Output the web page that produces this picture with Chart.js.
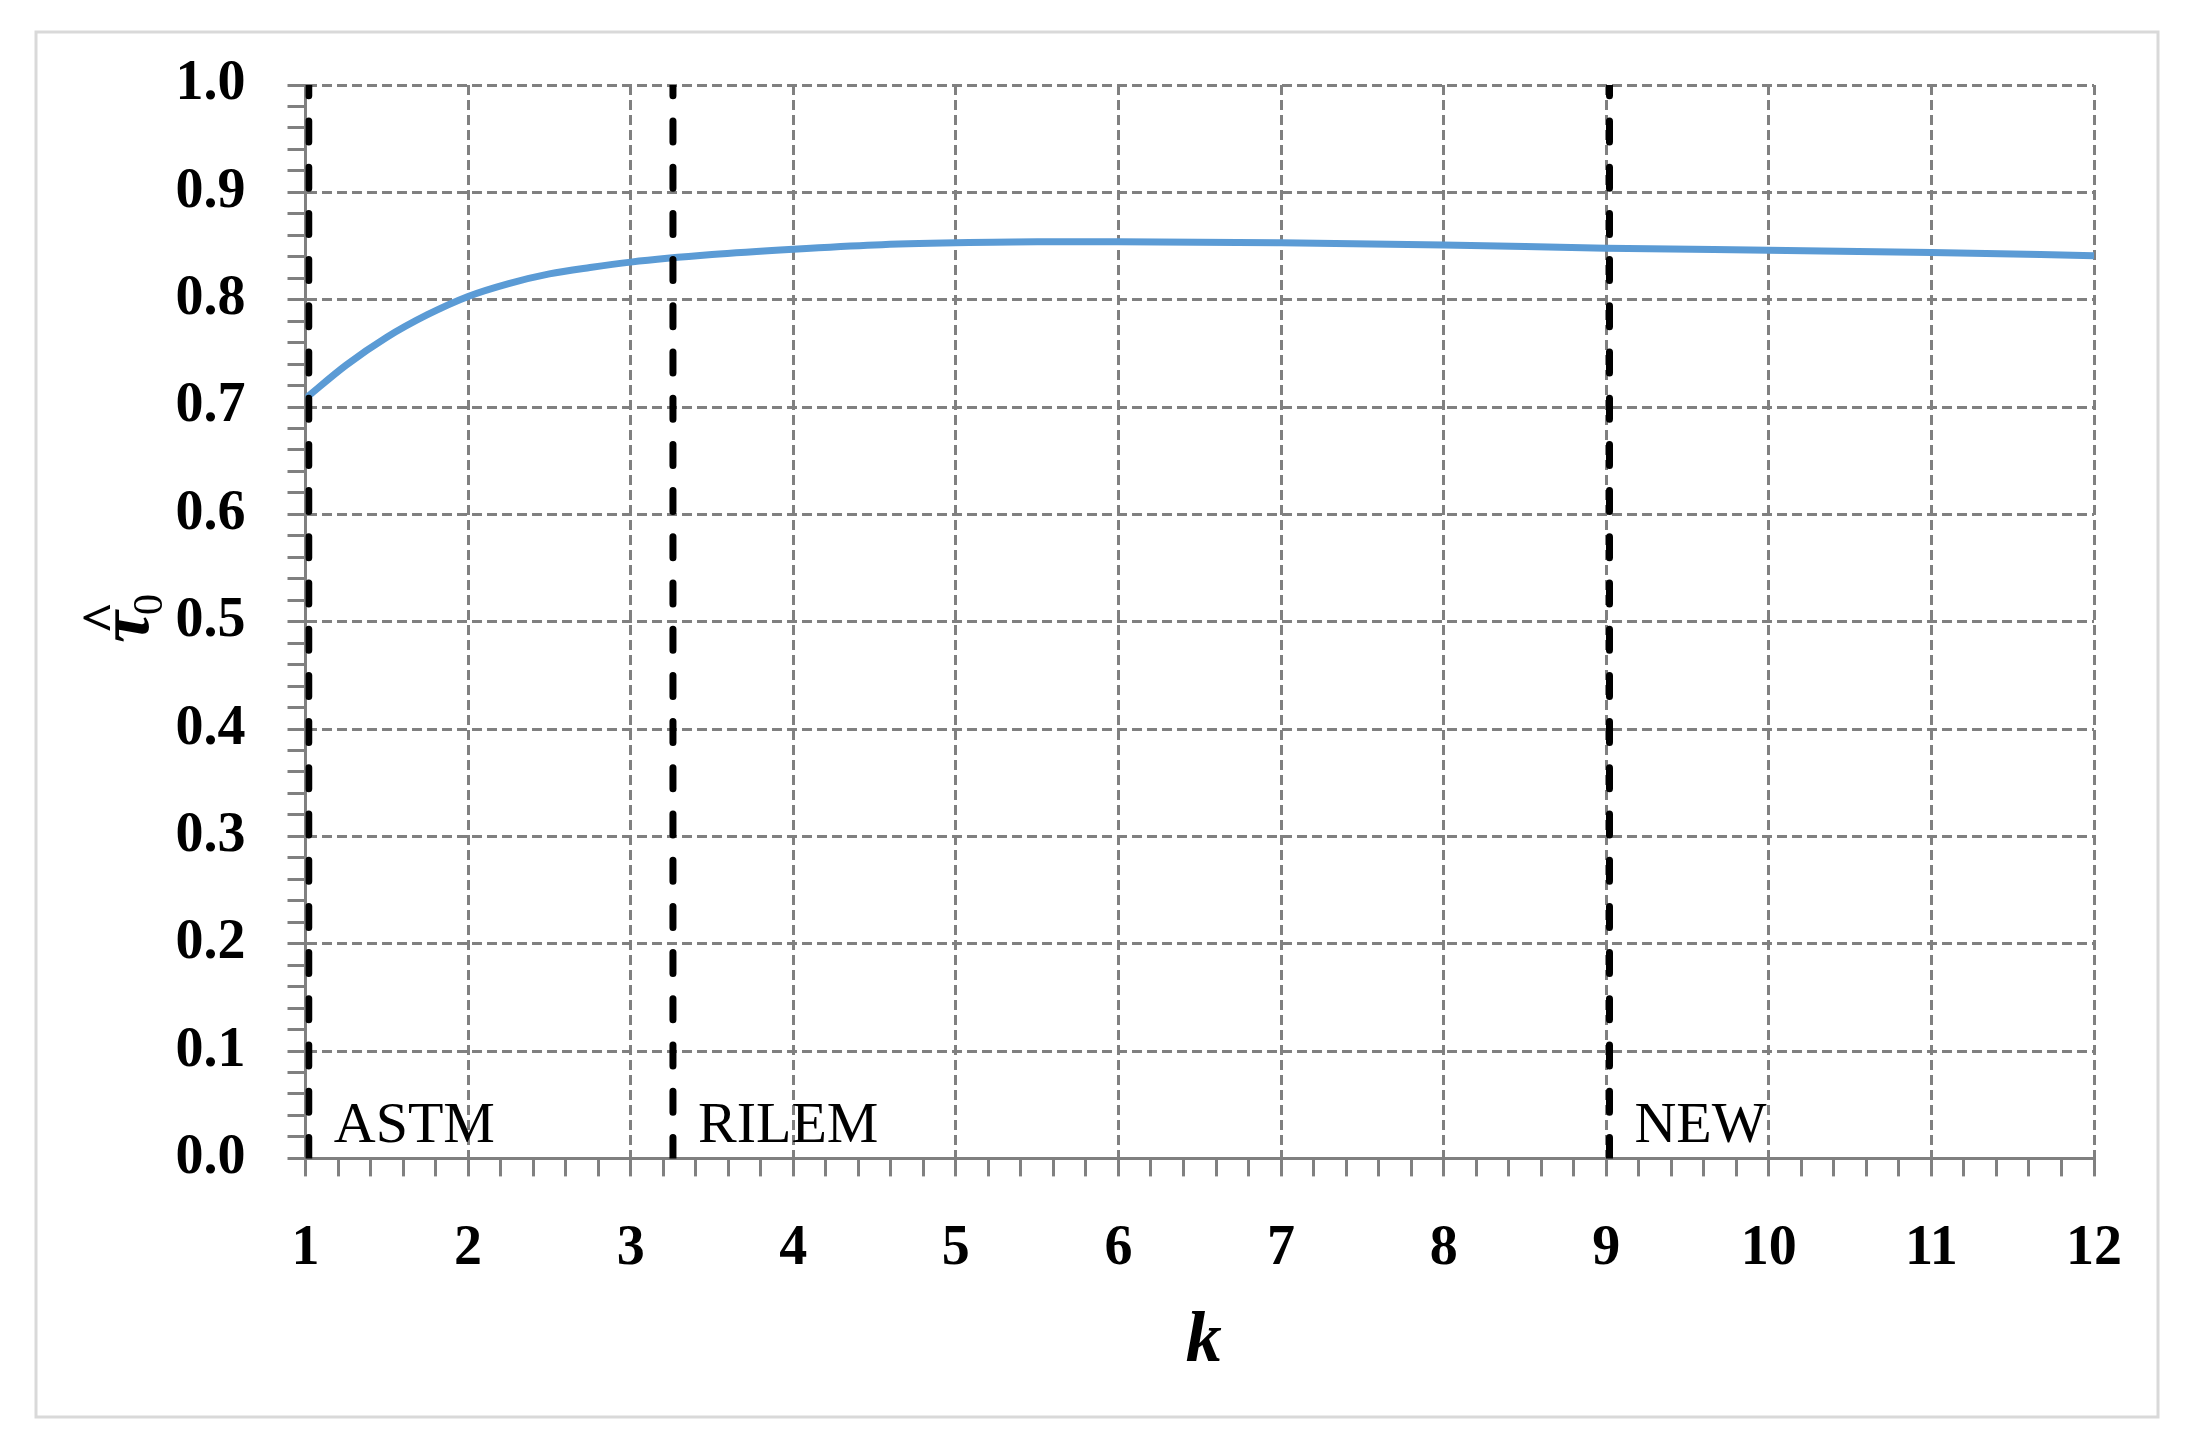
<!DOCTYPE html>
<html>
<head>
<meta charset="utf-8">
<script src="https://cdn.jsdelivr.net/npm/chart.js@4"></script>
<style>
  html, body { margin: 0; padding: 0; background: #fff; }
  #wrap { width: 2201px; height: 1456px; position: relative; }
</style>
</head>
<body>
<div id="wrap"><canvas id="tauChart"></canvas></div>
<script>
// k values and the curve
var kValues = [1, 1.25, 1.5, 1.75, 2, 2.25, 2.5, 2.75, 3, 3.5, 4, 4.5, 5, 5.5, 6, 7, 8, 9, 10, 11, 12];
var tauValues = [0.708, 0.739, 0.765, 0.786, 0.803, 0.815, 0.824, 0.830, 0.835, 0.842, 0.847, 0.851, 0.853, 0.854, 0.854, 0.853, 0.851, 0.848, 0.846, 0.844, 0.841];

// vertical method markers
var markerK = [1.02, 3.26, 9.02];
var markerNames = ["ASTM", "RILEM", "NEW"];

var xTicks = [1, 2, 3, 4, 5, 6, 7, 8, 9, 10, 11, 12];
var yTicks = [0, 0.1, 0.2, 0.3, 0.4, 0.5, 0.6, 0.7, 0.8, 0.9, 1.0];

var GRID = '#808080';
var SERIF = '"Liberation Serif", "Times New Roman", serif';

function isMajorX(v) { return Math.abs(v - Math.round(v)) < 1e-6; }
function isMajorY(v) { return Math.abs(v * 10 - Math.round(v * 10)) < 1e-6; }

var datasets = [];
// markers first so they sit on top of the curve
markerK.forEach(function (k, i) {
  datasets.push({
    label: markerNames[i],
    data: [{ x: k, y: yTicks[0] }, { x: k, y: yTicks[yTicks.length - 1] }],
    showLine: true,
    borderColor: '#000',
    borderWidth: 7,
    borderDash: [21, 25.2],
    borderCapStyle: 'round',
    pointRadius: 0,
    order: 0
  });
});
datasets.push({
  label: "tau0",
  data: kValues.map(function (k, i) { return { x: k, y: tauValues[i] }; }),
  showLine: true,
  borderColor: '#5B9BD5',
  borderWidth: 7,
  cubicInterpolationMode: 'monotone',
  pointRadius: 0,
  order: 1
});

// frame, marker names and axis titles
var decor = {
  id: 'decor',
  beforeDraw: function (chart) {
    var ctx = chart.ctx;
    ctx.save();
    ctx.fillStyle = '#fff';
    ctx.fillRect(0, 0, chart.width, chart.height);
    ctx.strokeStyle = '#d9d9d9';
    ctx.lineWidth = 3;
    ctx.strokeRect(36, 32, 2122, 1385);
    ctx.restore();
  },
  afterDraw: function (chart) {
    var ctx = chart.ctx;
    var xs = chart.scales.x, ys = chart.scales.y;
    ctx.save();
    ctx.fillStyle = '#000';
    ctx.textBaseline = 'alphabetic';
    ctx.textAlign = 'left';
    ctx.font = '58px ' + SERIF;
    markerK.forEach(function (k, i) {
      ctx.fillText(markerNames[i], xs.getPixelForValue(k) + 25, ys.getPixelForValue(0) - 16);
    });

    // x title
    ctx.textAlign = 'center';
    ctx.font = 'italic bold 72px ' + SERIF;
    ctx.fillText('k', (xs.left + xs.right) / 2 + 4, 1361);

    // y title: tau hat, subscript 0, rotated
    ctx.translate(148, 643);
    ctx.rotate(-Math.PI / 2);
    ctx.textAlign = 'left';
    ctx.font = 'italic bold 72px ' + SERIF;
    ctx.fillText('\u03C4', 0, 0);
    ctx.font = 'bold 56px ' + SERIF;
    ctx.fillText('^', 9, -27);
    ctx.font = '42px ' + SERIF;
    ctx.fillText('0', 28, 14);
    ctx.restore();
  }
};

var ctx = document.getElementById('tauChart').getContext('2d');
var chart = new Chart(ctx, {
  type: 'scatter',
  data: { datasets: datasets },
  options: {
    responsive: true,
    maintainAspectRatio: false,
    animation: false,
    devicePixelRatio: 1,
    layout: { padding: { left: 0, top: 85, right: 107, bottom: 0 } },
    plugins: { legend: { display: false }, tooltip: { enabled: false } },
    scales: {
      x: {
        type: 'linear',
        min: xTicks[0],
        max: xTicks[xTicks.length - 1],
        afterFit: function (scale) { scale.height = 297.6; },
        border: { display: true, color: GRID, width: 3, dash: [10, 5] },
        grid: {
          color: function (c) { return (c.tick && isMajorX(c.tick.value)) ? GRID : 'rgba(0,0,0,0)'; },
          lineWidth: 3,
          tickColor: GRID,
          tickWidth: 3,
          tickLength: 18
        },
        ticks: {
          stepSize: 0.2,
          maxTicksLimit: 1000,
          autoSkip: false,
          maxRotation: 0,
          minRotation: 0,
          padding: 40,
          color: '#000',
          font: { family: SERIF, size: 56, weight: 'bold' },
          callback: function (v) { return isMajorX(v) ? String(Math.round(v)) : ''; }
        }
      },
      y: {
        type: 'linear',
        min: yTicks[0],
        max: yTicks[yTicks.length - 1],
        afterFit: function (scale) { scale.width = 305.5; },
        border: { display: true, color: GRID, width: 3, dash: [10, 5] },
        grid: {
          color: function (c) { return (c.tick && isMajorY(c.tick.value)) ? GRID : 'rgba(0,0,0,0)'; },
          lineWidth: 3,
          tickColor: GRID,
          tickWidth: 3,
          tickLength: 18
        },
        ticks: {
          stepSize: 0.02,
          maxTicksLimit: 1000,
          autoSkip: false,
          padding: 42,
          color: '#000',
          font: { family: SERIF, size: 56, weight: 'bold' },
          callback: function (v) { return isMajorY(v) ? v.toFixed(1) : ''; }
        }
      }
    }
  },
  plugins: [decor]
});
</script>
</body>
</html>
